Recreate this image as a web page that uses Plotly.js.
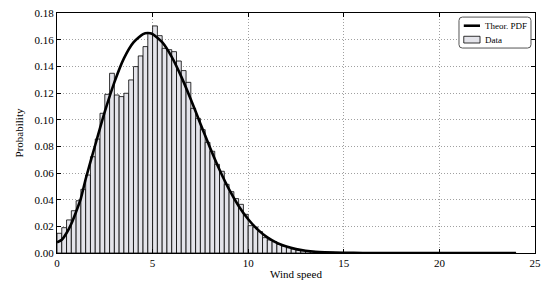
<!DOCTYPE html>
<html>
<head>
<meta charset="utf-8">
<script src="https://cdn.plot.ly/plotly-3.0.1.min.js"></script>
<style>html,body{margin:0;padding:0;background:#fff;}#chart{width:545px;height:284px;}</style>
</head>
<body>
<div id="chart"></div>
<script>
// Histogram: bin left edges start at 0, width 0.25
const binWidth = 0.25;
const binStart = 0;
const dataProb = [
  0.0148, 0.0190, 0.0248, 0.0317, 0.0392, 0.0478, 0.0585, 0.0722, 0.0855, 0.1048,
  0.1190, 0.1348, 0.1185, 0.1173, 0.1198, 0.1298, 0.1398, 0.1478, 0.1548, 0.1650,
  0.1703, 0.1630, 0.1535, 0.1525, 0.1510, 0.1440, 0.1368, 0.1280, 0.1085, 0.1010,
  0.0925, 0.0830, 0.0763, 0.0665, 0.0613, 0.0515, 0.0460, 0.0408, 0.0365, 0.0290,
  0.0205, 0.0195, 0.0160, 0.0115, 0.0098, 0.0085, 0.0065, 0.0052, 0.0040, 0.0030,
  0.0023, 0.0018, 0.0015, 0.0012, 0.0010, 0.0008, 0.0006, 0.0005, 0.0004, 0.0003,
  0.0003, 0.0002, 0.0002, 0.0002, 0.0002, 0.0002, 0.0002, 0.0002, 0.0002, 0.0002,
  0.0002, 0.0002, 0.0002, 0.0002, 0.0002, 0.0002, 0.0002, 0.0002, 0.0002, 0.0002,
  0.0002, 0.0002, 0.0002, 0.0002, 0.0002, 0.0002, 0.0002, 0.0002, 0.0002, 0.0002,
  0.0002, 0.0002, 0.0002, 0.0002, 0.0002, 0.0002
];
// Theoretical PDF
const pdfX = [0, 0.25, 0.5, 0.75, 1.0, 1.25, 1.5, 2.0, 2.5, 3.0, 3.5, 4.0, 4.5, 4.75, 5.0, 5.5, 6.0, 6.5, 7.0, 7.5, 8.0, 8.5, 9.0, 9.5, 10.0, 10.5, 11.0, 11.5, 12.0, 12.5, 13.0, 13.5, 14.0, 15.0, 16.0, 18.0, 20.0, 24.0];
const pdfY = [0.008, 0.010, 0.015, 0.022, 0.031, 0.041, 0.0555, 0.081, 0.106, 0.128, 0.146, 0.158, 0.1642, 0.165, 0.1641, 0.1581, 0.1471, 0.1323, 0.1152, 0.097, 0.0791, 0.0624, 0.0477, 0.0353, 0.0253, 0.0175, 0.0117, 0.0076, 0.0048, 0.0029, 0.0017, 0.0009, 0.0005, 0.00013, 0.00003, 0, 0, 0];
const xTicks = [0, 5, 10, 15, 20, 25];
const yTicks = [0.00, 0.02, 0.04, 0.06, 0.08, 0.10, 0.12, 0.14, 0.16, 0.18];
const seriesNames = ['Theor. PDF', 'Data'];

const binCenters = dataProb.map((_, i) => binStart + binWidth * (i + 0.5));

const fam = '"Liberation Serif", "DejaVu Serif", serif';
const font = {family: fam, size: 11, color: '#000'};
const barFill = '#e4e4ea';

const traces = [
  {
    type: 'scatter', mode: 'lines', name: seriesNames[0],
    x: pdfX, y: pdfY,
    line: {color: '#000', width: 2.6, shape: 'spline', smoothing: 0.6},
    hoverinfo: 'skip', showlegend: false
  },
  {
    type: 'bar', name: seriesNames[1],
    x: binCenters, y: dataProb, width: binWidth,
    marker: {color: barFill, line: {color: '#000', width: 0.8}},
    hoverinfo: 'skip', showlegend: false
  }
];

const axisCommon = {
  showline: true, linecolor: '#000', linewidth: 1, mirror: 'allticks',
  ticks: 'inside', ticklen: 4, tickcolor: '#000', tickwidth: 1,
  showgrid: true, gridcolor: '#a0a0a0', griddash: '1px,2px', gridwidth: 1,
  zeroline: false, tickfont: font
};

// Legend box (paper coordinates), drawn as shapes + annotations
const lx0 = 0.841, lx1 = 0.9916, ly0 = 0.854, ly1 = 0.983, rx = 0.007, ry = 0.014;
const boxPath = `M ${lx0+rx},${ly0} L ${lx1-rx},${ly0} Q ${lx1},${ly0} ${lx1},${ly0+ry} L ${lx1},${ly1-ry} Q ${lx1},${ly1} ${lx1-rx},${ly1} L ${lx0+rx},${ly1} Q ${lx0},${ly1} ${lx0},${ly1-ry} L ${lx0},${ly0+ry} Q ${lx0},${ly0} ${lx0+rx},${ly0} Z`;
const rowY = [0.947, 0.889];
const iconX0 = 0.851, iconX1 = 0.885, textX = 0.892;

const layout = {
  width: 545, height: 284,
  margin: {l: 57, r: 10, t: 13, b: 31},
  paper_bgcolor: '#fff', plot_bgcolor: '#fff',
  font: font,
  bargap: 0,
  showlegend: false,
  xaxis: Object.assign({}, axisCommon, {
    range: [0, 25], tickmode: 'array', tickvals: xTicks, ticktext: xTicks.map(String),
    title: {text: 'Wind speed', font: font, standoff: 2}
  }),
  yaxis: Object.assign({}, axisCommon, {
    range: [0, 0.18], tickmode: 'array', tickvals: yTicks, ticktext: yTicks.map(v => v.toFixed(2)),
    title: {text: 'Probability', font: font, standoff: 8}
  }),
  shapes: [
    {type: 'path', xref: 'paper', yref: 'paper', path: boxPath,
     fillcolor: '#fff', line: {color: '#555', width: 1}, layer: 'above'},
    {type: 'line', xref: 'paper', yref: 'paper', x0: iconX0, x1: iconX1, y0: rowY[0], y1: rowY[0],
     line: {color: '#000', width: 2.6}, layer: 'above'},
    {type: 'rect', xref: 'paper', yref: 'paper', x0: iconX0, x1: iconX1, y0: rowY[1] - 0.014, y1: rowY[1] + 0.014,
     fillcolor: barFill, line: {color: '#000', width: 0.8}, layer: 'above'}
  ],
  annotations: seriesNames.map((n, i) => ({
    xref: 'paper', yref: 'paper', x: textX, y: rowY[i], text: n, showarrow: false,
    xanchor: 'left', yanchor: 'middle', font: {family: fam, size: 9, color: '#000'}
  }))
};

Plotly.newPlot('chart', traces, layout, {displayModeBar: false, staticPlot: true});
</script>
</body>
</html>
